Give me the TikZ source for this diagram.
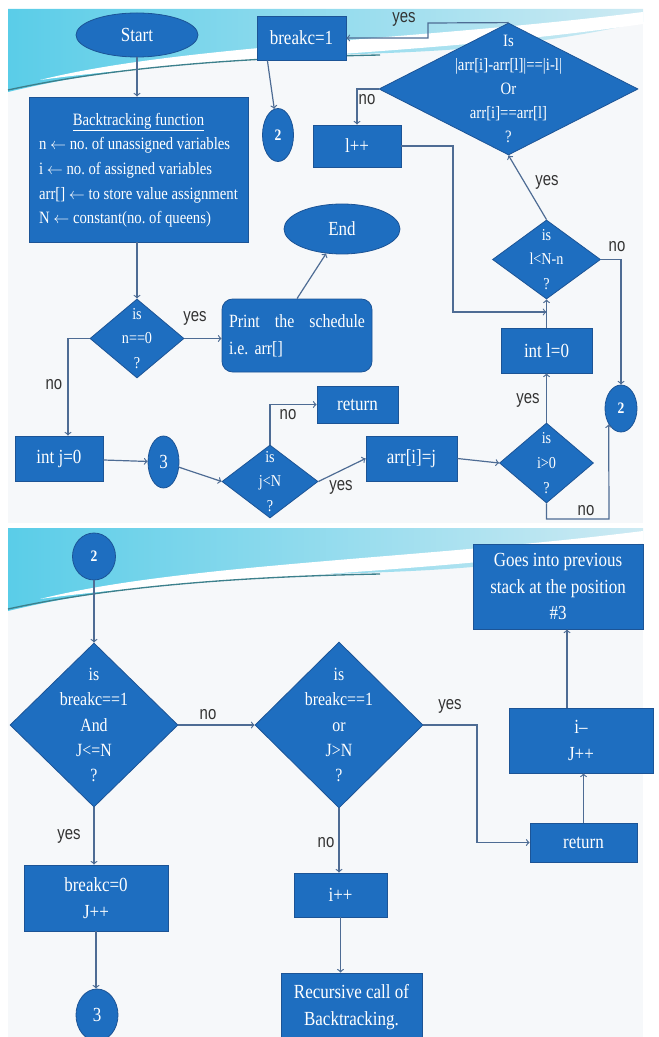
\documentclass[tikz,border=0pt]{standalone}
\usepackage{fontspec}
\setmainfont[FakeStretch=0.85]{Liberation Serif}
\newfontfamily\labelfont[FakeStretch=0.8]{Liberation Sans}
\usetikzlibrary{shapes.geometric,calc}
\definecolor{boxblue}{RGB}{30,110,192}
\definecolor{boxline}{RGB}{28,84,150}
\definecolor{connline}{RGB}{78,108,148}
\definecolor{slidebg}{RGB}{246,248,250}
\definecolor{swooshA}{RGB}{90,205,232}
\definecolor{swooshB}{RGB}{205,234,243}
\definecolor{swooshline}{RGB}{60,128,140}
\frenchspacing

\begin{document}
\begin{tikzpicture}[x=0.75pt,y=-0.75pt,
  shp/.style={draw=boxline,fill=boxblue,text=white,inner sep=0pt,line width=0.6pt,font=\fontsize{15}{20}\selectfont},
  sz/.style 2 args={minimum width=#1*0.75pt,minimum height=#2*0.75pt},
  proc/.style={shp,rectangle,align=center},
  term/.style={shp,ellipse},
  dec/.style={shp,diamond},
  dtext/.style={text=white,align=center,inner sep=0pt,font=\fontsize{12.5}{18.5}\selectfont},
  conn/.style={->,draw=connline,line width=0.9pt},
  lbl/.style={text=black!80,inner sep=0pt,font=\labelfont\fontsize{14}{16}\selectfont}]
\useasboundingbox (0,0) rectangle (659,1037);

% The slides
\foreach \oy in {0,519}
{
  \begin{scope}[shift={(0,\oy)}]
  \fill[slidebg] (8,9) rectangle (643,523);
  \shade[left color=swooshA,right color=swooshB] (8,9) -- (643,9) -- (643,22)
    .. controls (520,50) and (420,52) .. (330,55)
    .. controls (200,58) and (90,72) .. (8,92) -- cycle;
  \fill[white] (40,80) .. controls (180,45) and (420,40) .. (643,12) -- (643,24)
    .. controls (430,55) and (200,58) .. (40,80) -- cycle;
  \draw[swooshline,line width=1pt] (8,90) .. controls (100,70) and (220,58) .. (380,55);
  \end{scope}
}

% The top slide
\node[term,sz={122}{44}] (start) at (137,35) {Start};
\node[proc,sz={219}{145},font=\fontsize{13}{18.5}\selectfont] (func) at (138.5,169.5)
  {\begin{tabular}{@{}l@{}}
   \multicolumn{1}{c}{\underline{Backtracking function}}\\
   n $\leftarrow$ no. of unassigned variables\\
   i $\leftarrow$ no. of assigned variables\\
   arr[] $\leftarrow$ to store value assignment\\
   N $\leftarrow$ constant(no. of queens)
   \end{tabular}};
\node[proc,sz={89}{44}] (brk1) at (301.5,38) {breakc=1};
\node[term,sz={31}{53},font=\bfseries\fontsize{12}{14}\selectfont] (c2a) at (278,135) {2};
\node[dec,sz={259}{132}] (bigd) at (508.5,89) {};
\node[dtext,font=\fontsize{13}{18}\selectfont] (bigdt) at (bigd) {Is\\|arr[i]-arr[l]|==|i-l|\\Or\\arr[i]==arr[l]\\?};
\node[proc,sz={88}{42}] (lpp) at (357,146) {l++};
\node[term,sz={116}{50}] (endn) at (342,229) {End};
\node[dec,sz={108}{79}] (lnn) at (546.5,259.5) {};
\node[dtext] (lnnt) at (lnn) {is\\l<N-n\\?};
\node[dec,sz={94}{79}] (d0) at (137,338.5) {};
\node[dtext] (d0t) at (d0) {is\\n==0\\?};
\node[proc,rounded corners=8pt,sz={150}{73},text width=102pt,align=left,font=\fontsize{14}{20}\selectfont] (prt) at (297,335.5)
  {Print\hfill the\hfill schedule\\i.e. arr[]};
\node[proc,sz={88}{45}] (ij0) at (59,458.5) {int j=0};
\node[term,sz={31}{52},font=\fontsize{15}{17}\selectfont] (c3a) at (163.5,462) {3};
\node[dec,sz={96}{73}] (djn) at (270,481.5) {};
\node[dtext] (djnt) at (djn) {is\\j<N\\?};
\node[proc,sz={81}{37}] (ret1) at (357.5,404.5) {return};
\node[proc,sz={91}{45}] (arr) at (411.5,458.5) {arr[i]=j};
\node[dec,sz={94}{80}] (dig) at (546.5,463) {};
\node[dtext] (digt) at (dig) {is\\i>0\\?};
\node[proc,sz={91}{45}] (il0) at (546.5,350.5) {int l=0};
\node[term,sz={32}{47},font=\bfseries\fontsize{12}{14}\selectfont] (c2b) at (621,408.5) {2};

% The connectors of the top slide
\draw[conn] (start.south) -- (start.south |- func.north);
\draw[conn] (d0.north |- func.south) -- (d0.north);
\draw[conn] (d0.east) -- (d0.east -| prt.west);
\node[lbl] (y1) at (195,318) {yes};
\draw[conn] (prt.north) -- (endn);
\coordinate (k1) at (68,338.5);
\draw[conn] (d0.west) -- (k1) -- (k1 |- ij0.north);
\node[lbl] (n1) at (54,385) {no};
\draw[conn] (ij0) -- (c3a);
\draw[conn] (c3a) -- (djn.west);
\draw[conn] (djn.north) |- (ret1.west);
\node[lbl] (n2) at (288,415) {no};
\draw[conn] (djn.east) -- (arr.west);
\node[lbl] (y2) at (341,487) {yes};
\draw[conn] (arr.east) -- (dig.west);
\draw[conn] (dig.north) -- (il0.south);
\node[lbl] (y3) at (528,400) {yes};
\draw[conn] (il0.north) -- (lnn.south);
\draw[conn] (lnn.north) -- (bigd.south);
\node[lbl] (y4) at (547,182) {yes};
\draw[conn] (lnn.east) -| (c2b.north);
\node[lbl] (n3) at (617,247) {no};
\coordinate (k2) at (546.5,519);
\coordinate (k3) at (609,519);
\draw[conn] (dig.south) -- (k2) -- (k3) -- (c2b.232);
\node[lbl] (n4) at (586,511) {no};
\coordinate (k4) at (428,23);
\draw[conn] (bigd.north) -- (k4) -- (k4 |- brk1.east) -- (brk1.east);
\node[lbl] (y5) at (404,19) {yes};
\draw[conn] (bigd.west) -| (lpp.north);
\node[lbl] (n5) at (367,100) {no};
\coordinate (k5) at (453,312);
\draw[conn] (lpp.east) -| (k5) -- (k5 -| lnn.south);
\coordinate (k6) at ($(brk1.south west)!.12!(brk1.south east)$);
\draw[conn] (k6) -- (c2a);

% The bottom slide
\node[term,sz={43}{47},font=\bfseries\fontsize{12}{14}\selectfont] (c2c) at (94,556.5) {2};
\node[dec,sz={168}{164}] (da) at (94,725) {};
\node[dtext,font=\fontsize{14}{19}\selectfont] (dat) at (da) {is\\breakc==1\\And\\J<=N\\?};
\node[dec,sz={168}{166}] (db) at (339,725) {};
\node[dtext,font=\fontsize{14}{19}\selectfont] (dbt) at (db) {is\\breakc==1\\or\\J>N\\?};
\node[proc,sz={144}{66}] (bc0) at (96,898) {breakc=0\\J++};
\node[term,sz={42}{52},font=\fontsize{15}{17}\selectfont] (c3b) at (97,1015) {3};
\node[proc,sz={93}{44}] (ipp) at (340.5,895) {i++};
\node[proc,sz={141}{68}] (rec) at (351.5,1007) {Recursive call of\\Backtracking.};
\node[proc,sz={107}{39}] (ret2) at (583.5,842.5) {return};
\node[proc,sz={144}{65}] (imj) at (581,740.5) {i--\\J++};
\node[proc,sz={170}{85}] (goes) at (558,586.5) {Goes into previous\\stack at the position\\\#3};

% The connectors of the bottom slide
\draw[conn] (c2c) -- (da.north);
\draw[conn] (da.east) -- (db.west);
\node[lbl] (n6) at (208,715) {no};
\draw[conn] (da.south) -- (da.south |- bc0.north);
\node[lbl] (y6) at (69,836) {yes};
\draw[conn] (bc0.south) -- (bc0.south |- c3b.north);
\draw[conn] (db.south) -- (db.south |- ipp.north);
\node[lbl] (n7) at (326,843) {no};
\draw[conn] (ipp.south) -- (ipp.south |- rec.north);
\coordinate (k7) at (477,725);
\draw[conn] (db.east) -- (k7) |- (ret2.west);
\node[lbl] (y7) at (450,706) {yes};
\draw[conn] (ret2.north) -- (ret2.north |- imj.south);
\coordinate (k8) at ($(imj.north)+(-14,0)$);
\draw[conn] (k8) -- (k8 |- goes.south);

\end{tikzpicture}
\end{document}
